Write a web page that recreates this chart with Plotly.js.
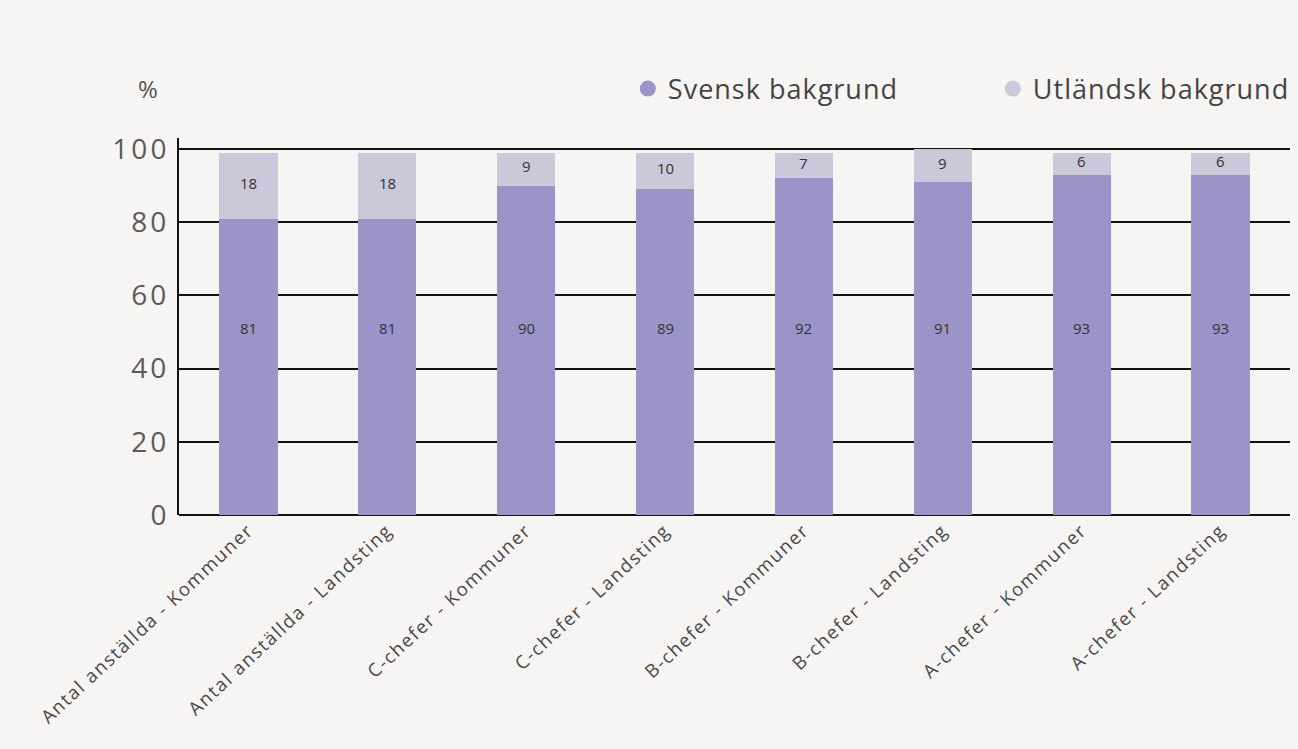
<!DOCTYPE html>
<html>
<head>
<meta charset="utf-8">
<script src="https://cdn.plot.ly/plotly-3.0.1.min.js"></script>
<style>
html,body{margin:0;padding:0;background:#f6f5f3;}
#chart{width:1298px;height:749px;}
#chart .xtick text{letter-spacing:1.6px;}
#chart .ytick text{letter-spacing:3px;}
#chart .legendtext{letter-spacing:1px;}
</style>
</head>
<body>
<div id="chart"></div>
<script>
const categories = ["Antal anställda - Kommuner","Antal anställda - Landsting","C-chefer - Kommuner","C-chefer - Landsting","B-chefer - Kommuner","B-chefer - Landsting","A-chefer - Kommuner","A-chefer - Landsting"];
const svensk = [81, 81, 90, 89, 92, 91, 93, 93];
const utlandsk = [18, 18, 9, 10, 7, 9, 6, 6];
const seriesNames = ["Svensk bakgrund", "Utländsk bakgrund"];
const yTicks = [0, 20, 40, 60, 80, 100];

const colSv = '#9b94c8';
const colUt = '#cbc8d9';
const fontFam = 'Open Sans, Lato, sans-serif';

const traces = [
  {type:'bar', x:categories, y:svensk, marker:{color:colSv}, showlegend:false, hoverinfo:'y'},
  {type:'bar', x:categories, y:utlandsk, marker:{color:colUt}, showlegend:false, hoverinfo:'y'},
  {type:'scatter', mode:'markers', x:[null], y:[null], name:seriesNames[0], marker:{color:colSv, size:16, symbol:'circle'}},
  {type:'scatter', mode:'markers', x:[null], y:[null], name:seriesNames[1], marker:{color:colUt, size:16, symbol:'circle'}}
];

const annotations = [];
categories.forEach((c, i) => {
  annotations.push({x: c, y: 51, xref:'x', yref:'y', text: String(svensk[i]), showarrow:false,
    font:{family:fontFam, size:15, color:'#333'}});
  annotations.push({x: c, y: svensk[i] + utlandsk[i] / 2 + 0.8, xref:'x', yref:'y', text: String(utlandsk[i]), showarrow:false,
    font:{family:fontFam, size:15, color:'#333'}});
});
annotations.push({x:-0.028, y:1.13, xref:'paper', yref:'paper', text:'%', showarrow:false,
  font:{family:fontFam, size:24, color:'#555'}, xanchor:'center', yanchor:'middle'});

const layout = {
  width:1298, height:749,
  paper_bgcolor:'#f6f5f3', plot_bgcolor:'#f6f5f3',
  margin:{l:179, r:8, t:138, b:234, autoexpand:false},
  barmode:'stack', bargap:0.58,
  font:{family:fontFam, color:'#555'},
  xaxis:{type:'category', tickangle:-43, tickfont:{family:fontFam, size:18.5, color:'#4a4a4a'},
    showline:false, ticks:'', showgrid:false, zeroline:false, range:[-0.5, 7.5], automargin:false},
  yaxis:{range:[0,103], tickvals:yTicks, ticktext:yTicks.map(String),
    tickfont:{family:fontFam, size:28, color:'#5a5a5a'},
    showgrid:true, gridcolor:'#111', gridwidth:2, showline:true, linecolor:'#111', linewidth:2,
    zeroline:true, zerolinecolor:'#111', zerolinewidth:2, ticks:'', ticklabelstandoff:2, fixedrange:true, automargin:false},
  legend:{orientation:'h', traceorder:'normal', x:0.404, xanchor:'left', y:1.13, yanchor:'middle',
    font:{family:fontFam, size:27, color:'#444'}, bgcolor:'rgba(0,0,0,0)', entrywidth:320, entrywidthmode:'pixels'},
  annotations: annotations,
  showlegend:true
};

Plotly.newPlot('chart', traces, layout, {displayModeBar:false, staticPlot:true});
</script>
</body>
</html>
